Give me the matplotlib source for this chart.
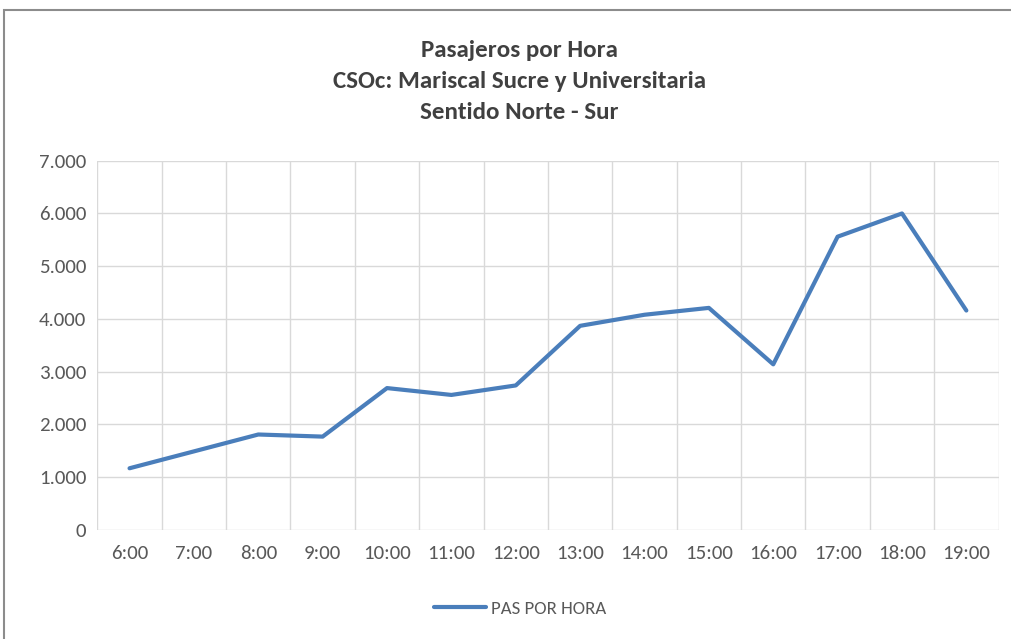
import matplotlib
matplotlib.use("Agg")
import matplotlib.pyplot as plt
import matplotlib.patches as patches
from matplotlib.ticker import FuncFormatter, FixedLocator
import numpy as np

plt.rcParams['font.family'] = ['Carlito', 'Lato', 'DejaVu Sans']

horas = ["6:00", "7:00", "8:00", "9:00", "10:00", "11:00", "12:00",
         "13:00", "14:00", "15:00", "16:00", "17:00", "18:00", "19:00"]
pasajeros = [1170, 1490, 1810, 1770, 2690, 2560, 2740,
             3870, 4080, 4210, 3140, 5560, 6000, 4160]
titulo = "Pasajeros por Hora\nCSOc: Mariscal Sucre y Universitaria\nSentido Norte - Sur"
serie = "PAS POR HORA"

fig = plt.figure(figsize=(10.12, 6.39), dpi=100)
ax = fig.add_axes([0.0962, 0.1706, 0.8905, 0.5779])

x = np.arange(len(horas))
ax.plot(x, pasajeros, color='#4a7ebb', lw=3.0, solid_capstyle='round',
        solid_joinstyle='round', label=serie, zorder=3)

ax.set_xlim(-0.5, len(horas) - 0.5)
ax.set_ylim(0, 7000)
ax.set_yticks(np.arange(0, 7001, 1000))
ax.yaxis.set_major_formatter(FuncFormatter(lambda v, p: f"{int(v):,}".replace(",", ".")))
ax.set_xticks(x)
ax.set_xticklabels(horas)
# vertical gridlines sit between categories, as in the spreadsheet chart
ax.xaxis.set_minor_locator(FixedLocator(np.arange(-0.5, len(horas), 1.0)))
ax.grid(axis='y', which='major', color='#d9d9d9', lw=1.0)
ax.grid(axis='x', which='minor', color='#d9d9d9', lw=1.0)
ax.set_axisbelow(True)
for s in ax.spines.values():
    s.set_visible(False)
ax.tick_params(which='both', length=0, colors='#595959', labelsize=15)
ax.tick_params(axis='x', pad=11)
ax.tick_params(axis='y', pad=8)

fig.text(0.513, 0.873, titulo, ha='center', va='center', fontsize=18,
         fontweight='bold', color='#404040', linespacing=1.58)

fig.legend(loc='center', bbox_to_anchor=(0.514, 0.047), frameon=False,
           fontsize=13.5, labelcolor='#595959', handlelength=2.8, handletextpad=0.25)

# chart frame
fig.add_artist(patches.Rectangle((4 / 1012, -0.1), 1.2, 1.1 - 10 / 639,
                                 transform=fig.transFigure, fill=False,
                                 edgecolor='#8c8c8c', lw=1.5, clip_on=False))

fig.savefig("out.png", dpi=100, facecolor='white')
